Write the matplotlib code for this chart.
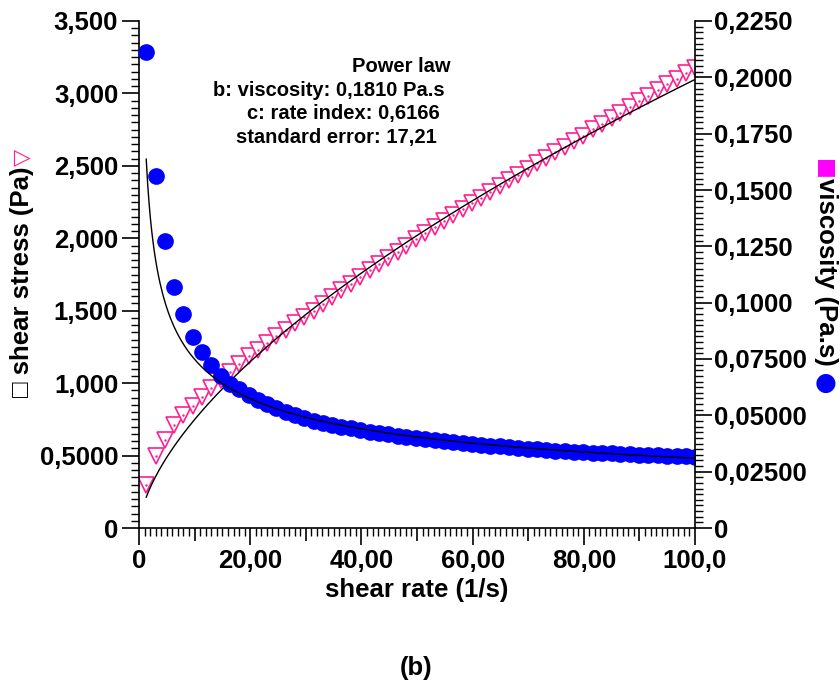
import numpy as np
import matplotlib
matplotlib.use('Agg')
import matplotlib.pyplot as plt
from matplotlib.ticker import MultipleLocator

plt.rcParams['font.family'] = ['Liberation Sans', 'DejaVu Sans']
plt.rcParams['font.weight'] = 'bold'

# shear rate (1/s)
rate = [1.3, 3.0, 4.6, 6.3, 8.0, 9.7, 11.3, 13.0, 14.7, 16.4,
        18.0, 19.7, 21.4, 23.0, 24.7, 26.4, 28.1, 29.7, 31.4, 33.1,
        34.8, 36.4, 38.1, 39.8, 41.5, 43.1, 44.8, 46.5, 48.1, 49.8,
        51.5, 53.2, 54.8, 56.5, 58.2, 59.9, 61.5, 63.2, 64.9, 66.6,
        68.2, 69.9, 71.6, 73.2, 74.9, 76.6, 78.3, 79.9, 81.6, 83.3,
        85.0, 86.6, 88.3, 90.0, 91.6, 93.3, 95.0, 96.7, 98.3, 100.0]

# shear stress (Pa)
stress = [0.297, 0.500, 0.607, 0.708, 0.780, 0.845, 0.906, 0.964, 1.021, 1.079,
          1.135, 1.185, 1.232, 1.280, 1.322, 1.370, 1.415, 1.455, 1.500, 1.548,
          1.595, 1.640, 1.686, 1.733, 1.778, 1.822, 1.863, 1.908, 1.950, 1.995,
          2.035, 2.078, 2.118, 2.162, 2.200, 2.242, 2.280, 2.320, 2.362, 2.400,
          2.440, 2.476, 2.518, 2.555, 2.594, 2.632, 2.672, 2.708, 2.752, 2.790,
          2.833, 2.866, 2.908, 2.950, 2.984, 3.025, 3.065, 3.103, 3.138, 3.175]

# viscosity (Pa.s)
viscosity = [0.2114, 0.1561, 0.1275, 0.1071, 0.0950, 0.0848, 0.0781, 0.0723, 0.0676, 0.0641,
             0.0615, 0.0590, 0.0567, 0.0550, 0.0533, 0.0515, 0.0500, 0.0488, 0.0477, 0.0467,
             0.0458, 0.0450, 0.0442, 0.0435, 0.0428, 0.0422, 0.0416, 0.0410, 0.0405, 0.0400,
             0.0394, 0.0389, 0.0385, 0.0381, 0.0377, 0.0373, 0.0369, 0.0365, 0.0362, 0.0358,
             0.0355, 0.0352, 0.0349, 0.0346, 0.0343, 0.0342, 0.0339, 0.0337, 0.0335, 0.0333,
             0.0331, 0.0329, 0.0327, 0.0326, 0.0324, 0.0322, 0.0321, 0.0320, 0.0318, 0.0317]

# power law fit parameters shown on the chart
visc_b = 0.1810
rate_c = 0.6166

stress_ticks = [0, 0.5, 1.0, 1.5, 2.0, 2.5, 3.0, 3.5]
stress_labels = ['0', '0,5000', '1,000', '1,500', '2,000', '2,500', '3,000', '3,500']
visc_ticks = [0, 0.025, 0.05, 0.075, 0.1, 0.125, 0.15, 0.175, 0.2, 0.225]
visc_labels = ['0', '0,02500', '0,05000', '0,07500', '0,1000', '0,1250',
               '0,1500', '0,1750', '0,2000', '0,2250']
rate_ticks = [0, 10, 20, 30, 40, 50, 60, 70, 80, 90, 100]
rate_labels = ['0', '', '20,00', '', '40,00', '', '60,00', '', '80,00', '', '100,0']

pink = '#ff1f8e'
blue = '#0000ff'

fig = plt.figure(figsize=(8.4, 6.85), dpi=100)
ax = fig.add_axes([139 / 840, 1 - 528 / 685, 556 / 840, 507 / 685])
ax2 = ax.twinx()

# data
ax.plot(rate, stress, 'v', color=pink, mfc='white', mec=pink, ms=11, mew=1.2, zorder=2)
ax.plot(rate, stress, '.', color=pink, ms=1.5, zorder=2)
ax2.plot(rate, viscosity, 'o', color=blue, ms=11, mec=blue, zorder=2)

# power law fit lines
fit_x = np.linspace(rate[0], rate[-1], 400)
ax.plot(fit_x, visc_b * fit_x ** rate_c, color='black', lw=1.0, zorder=3)
ax2.plot(fit_x, visc_b * fit_x ** (rate_c - 1), color='black', lw=1.0, zorder=3)

ax.set_xlim(0, 100)
ax.set_ylim(0, 3.5)
ax2.set_ylim(0, 0.225)

ax.set_xticks(rate_ticks)
ax.set_xticklabels(rate_labels)
ax.xaxis.set_minor_locator(MultipleLocator(1))
ax.set_yticks(stress_ticks)
ax.set_yticklabels(stress_labels)
ax.yaxis.set_minor_locator(MultipleLocator(0.05))
ax2.set_yticks(visc_ticks)
ax2.set_yticklabels(visc_labels)
ax2.yaxis.set_minor_locator(MultipleLocator(0.0025))

for a in (ax, ax2):
    a.spines['top'].set_visible(False)
    for s in a.spines.values():
        s.set_linewidth(1.2)
ax.spines['right'].set_visible(False)
ax2.spines['left'].set_visible(False)
ax2.spines['bottom'].set_visible(False)

ax.tick_params(axis='both', which='major', direction='out', length=12, width=1.2,
               labelsize=18.5, pad=3)
ax.tick_params(axis='both', which='minor', direction='out', length=6, width=1)
ax2.tick_params(axis='y', which='major', direction='out', length=12, width=1.2,
                labelsize=18.5, pad=2)
ax2.tick_params(axis='y', which='minor', direction='out', length=6, width=1)
for i, t in enumerate(ax.xaxis.get_major_ticks()):
    if i % 2 == 1:
        t.tick1line.set_markersize(9)

ax.set_xlabel('shear rate (1/s)', fontsize=18.5, fontweight='bold', labelpad=4)

# left axis title: square + text + pink triangle
fig.text(22 / 840, 1 - 282 / 685, '\u25a1 shear stress (Pa)', rotation=90, fontsize=18.5,
         fontweight='bold', ha='center', va='center')
fig.text(22 / 840, 1 - 157 / 685, '\u25bd', rotation=90, fontsize=16, color=pink,
         ha='center', va='center', family=['DejaVu Sans'])

# right axis title: magenta square + text + blue circle
fig.text(826 / 840, 1 - 167 / 685, '\u25a0', fontsize=16, color='#ff00ff',
         ha='center', va='center', family=['DejaVu Sans'])
fig.text(826 / 840, 1 - 272 / 685, 'viscosity (Pa.s)', rotation=270, fontsize=18.5,
         fontweight='bold', ha='center', va='center')
fig.text(826 / 840, 1 - 383 / 685, '\u25cf', fontsize=18, color=blue,
         ha='center', va='center', family=['DejaVu Sans'])

# fit annotation
fig.text(450 / 840, 1 - 67 / 685, 'Power law', fontsize=14.5, ha='right', va='center')
fig.text(445 / 840, 1 - 90 / 685, 'b: viscosity: 0,1810 Pa.s', fontsize=14.5,
         ha='right', va='center')
fig.text(440 / 840, 1 - 114 / 685, 'c: rate index: 0,6166', fontsize=14.5,
         ha='right', va='center')
fig.text(437 / 840, 1 - 138 / 685, 'standard error: 17,21', fontsize=14.5,
         ha='right', va='center')

fig.text(416 / 840, 1 - 668 / 685, '(b)', fontsize=18.5, ha='center', va='center')

fig.savefig('out.png', dpi=100)
